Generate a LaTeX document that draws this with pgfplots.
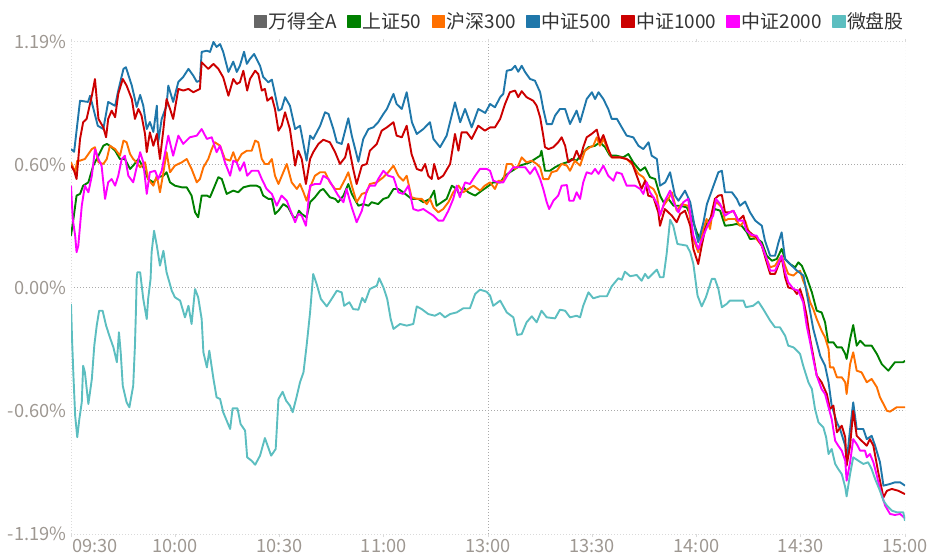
\documentclass[border=0pt]{standalone}
\usepackage{fontspec}
\setmainfont{Noto Sans CJK SC}
\usepackage{pgfplots}
\pgfplotsset{compat=1.18}
\definecolor{cgray}{RGB}{102,102,102}
\definecolor{cgreen}{RGB}{0,128,0}
\definecolor{corange}{RGB}{255,112,0}
\definecolor{cblue}{RGB}{31,119,170}
\definecolor{cred}{RGB}{204,0,0}
\definecolor{cmag}{RGB}{255,0,255}
\definecolor{cteal}{RGB}{92,190,192}
\definecolor{gridmid}{RGB}{170,170,170}
\definecolor{gridlight}{RGB}{218,218,218}
\definecolor{labelc}{RGB}{158,152,146}
\definecolor{legtext}{RGB}{51,51,51}
\begin{document}
\begin{tikzpicture}
\useasboundingbox (0,0) rectangle (934bp,559bp);
\begin{axis}[
  at={(71bp,25bp)}, anchor=south west,
  width=834bp, height=492bp, scale only axis,
  xmin=0, xmax=240, ymin=-1.19, ymax=1.19,
  axis line style={draw=none},
  no markers,
  every axis plot/.append style={line width=1.9bp, line join=round},
  ytick={-0.595,0,0.595},
  yticklabels={-0.60\%,0.00\%,0.60\%},
  extra y ticks={-1.19,1.19},
  extra y tick labels={-1.19\%,1.19\%},
  extra y tick style={major grid style={draw=gridlight, dash pattern=on 1bp off 2bp, line width=1bp}},
  ymajorgrids,
  major grid style={draw=gridmid, dash pattern=on 1bp off 2bp, line width=1bp},
  ytick style={draw=none},
  xtick={30,60,90,120,150,180,210,240},
  xticklabels={10:00,10:30,11:00,13:00,13:30,14:00,14:30,15:00},
  extra x ticks={0},
  extra x tick labels={09:30},
  extra x tick style={xticklabel style={anchor=north west, xshift=1bp}},
  xtick style={draw=gridlight, line width=1bp},
  major tick length=3bp,
  tick align=outside,
  tick label style={font=\fontsize{18.3}{20}\selectfont, text=labelc},
  yticklabel style={inner sep=0pt, xshift=-1.5bp},
  xticklabel style={inner sep=0pt, yshift=-2bp},
  legend style={draw=none, fill=none, at={(1,1)}, anchor=east, yshift=20.5bp, xshift=-1bp,
    inner sep=0pt, font=\fontsize{19}{21}\selectfont, text=legtext,
    nodes={inner sep=0pt},
    /tikz/every odd column/.append style={column sep=1.5bp},
    /tikz/every even column/.append style={column sep=10bp}},
  legend columns=-1,
  legend image code/.code={\fill[#1] (0bp,-6bp) rectangle (12bp,6bp);},
]
\draw[gridlight, dash pattern=on 1bp off 2bp, line width=1bp] (axis cs:0,-1.19) -- (axis cs:0,1.19);
\draw[gridlight, dash pattern=on 1bp off 2bp, line width=1bp] (axis cs:240,-1.19) -- (axis cs:240,1.19);
\draw[gridmid, dash pattern=on 1bp off 2bp, line width=1bp] (axis cs:120,-1.19) -- (axis cs:120,1.19);

\addlegendimage{cgray}
\addlegendentry{万得全A}

\addplot[cgreen] coordinates {(0,0.253)(0.7,0.334)(1.6,0.447)(2.6,0.455)(3.5,0.495)(5.0,0.511)(6.4,0.592)(7.9,0.640)(9.3,0.688)(10.3,0.697)(11.2,0.688)(12.7,0.664)(14.1,0.624)(15.5,0.624)(17.0,0.576)(17.9,0.592)(19.4,0.624)(20.8,0.584)(22.2,0.527)(23.7,0.511)(25.1,0.536)(26.6,0.543)(27.5,0.560)(28.5,0.511)(29.9,0.495)(31.9,0.487)(33.3,0.487)(34.7,0.447)(35.7,0.366)(36.6,0.342)(37.6,0.447)(39.1,0.447)(40.0,0.439)(41.0,0.479)(42.4,0.536)(43.4,0.527)(44.8,0.455)(46.7,0.471)(48.1,0.463)(49.6,0.487)(51.5,0.495)(53.4,0.495)(54.4,0.487)(55.3,0.447)(56.8,0.431)(57.8,0.431)(58.7,0.358)(59.7,0.374)(61.1,0.406)(62.5,0.390)(64.0,0.342)(64.9,0.342)(65.6,0.374)(66.4,0.358)(67.8,0.342)(68.8,0.415)(70.2,0.439)(71.7,0.471)(72.6,0.479)(74.5,0.439)(76.0,0.431)(76.9,0.415)(78.4,0.447)(79.8,0.503)(80.8,0.455)(82.7,0.398)(84.1,0.406)(85.6,0.398)(86.5,0.415)(88.4,0.406)(89.9,0.431)(91.3,0.439)(92.8,0.479)(94.2,0.479)(95.6,0.463)(98.0,0.431)(99.9,0.431)(101.4,0.415)(103.3,0.431)(104.5,0.471)(105.2,0.398)(106.7,0.415)(108.1,0.431)(109.6,0.495)(111.0,0.479)(111.9,0.447)(112.9,0.487)(114.3,0.463)(116.3,0.447)(118.2,0.471)(119.6,0.487)(121.5,0.511)(123.5,0.511)(124.9,0.543)(126.3,0.560)(127.8,0.576)(129.2,0.592)(130.7,0.600)(132.1,0.608)(133.5,0.624)(135.0,0.640)(135.4,0.664)(136.4,0.567)(137.8,0.567)(139.3,0.584)(141.2,0.600)(142.7,0.608)(144.1,0.624)(145.5,0.616)(147.4,0.657)(148.9,0.681)(150.8,0.688)(152.2,0.705)(153.7,0.681)(155.1,0.640)(157.0,0.640)(158.9,0.632)(160.4,0.648)(161.8,0.608)(163.8,0.567)(165.2,0.584)(166.6,0.536)(168.1,0.527)(169.5,0.447)(170.5,0.415)(171.9,0.431)(173.4,0.398)(175.3,0.398)(177.2,0.390)(178.6,0.342)(180.1,0.269)(181.0,0.237)(182.5,0.301)(183.9,0.334)(185.3,0.382)(186.8,0.374)(188.2,0.301)(190.2,0.305)(191.6,0.310)(193.0,0.301)(194.5,0.269)(195.4,0.237)(197.4,0.240)(198.8,0.221)(200.2,0.156)(201.7,0.132)(203.1,0.140)(204.5,0.189)(205.5,0.140)(206.9,0.116)(208.4,0.100)(209.3,0.124)(210.3,0.108)(211.7,0.052)(213.2,-0.021)(214.6,-0.110)(216.0,-0.118)(217.0,-0.166)(217.9,-0.263)(219.4,-0.263)(220.4,-0.287)(221.8,-0.287)(222.8,-0.319)(223.2,-0.343)(224.2,-0.247)(225.1,-0.179)(226.1,-0.279)(227.1,-0.255)(228.5,-0.279)(230.4,-0.279)(231.9,-0.319)(233.3,-0.368)(235.2,-0.400)(237.1,-0.359)(239.5,-0.359)(240,-0.352)};
\addlegendentry{上证50}

\addplot[corange] coordinates {(0,0.608)(1.2,0.560)(1.8,0.616)(2.6,0.616)(4.0,0.624)(5.0,0.648)(6.0,0.672)(6.9,0.681)(7.9,0.608)(9.3,0.600)(10.3,0.624)(11.2,0.688)(12.7,0.672)(14.1,0.640)(15.1,0.713)(16.0,0.705)(17.0,0.648)(17.9,0.624)(18.9,0.608)(19.9,0.584)(21.3,0.608)(22.2,0.527)(23.7,0.495)(24.7,0.543)(25.6,0.463)(26.6,0.560)(27.5,0.657)(28.5,0.560)(29.9,0.592)(31.9,0.608)(33.3,0.624)(34.7,0.576)(36.2,0.511)(37.1,0.527)(38.1,0.584)(39.5,0.624)(40.5,0.672)(41.4,0.705)(42.9,0.688)(44.3,0.624)(45.8,0.616)(46.7,0.657)(47.7,0.608)(49.1,0.648)(50.6,0.664)(52.0,0.664)(53.0,0.713)(53.9,0.705)(54.9,0.624)(55.8,0.600)(56.8,0.600)(57.8,0.624)(58.7,0.543)(59.7,0.503)(61.1,0.560)(62.1,0.600)(63.5,0.511)(65.0,0.479)(65.9,0.503)(66.9,0.463)(67.8,0.422)(69.0,0.495)(70.2,0.543)(71.7,0.560)(73.1,0.560)(74.5,0.511)(76.0,0.479)(77.4,0.479)(78.9,0.527)(79.8,0.560)(80.8,0.495)(82.2,0.415)(83.7,0.455)(85.1,0.463)(86.0,0.503)(88.0,0.511)(89.9,0.536)(91.3,0.560)(92.8,0.592)(94.2,0.543)(95.6,0.519)(96.6,0.543)(98.0,0.439)(99.5,0.431)(100.9,0.431)(102.4,0.406)(103.3,0.431)(104.3,0.390)(105.7,0.366)(107.1,0.382)(108.6,0.415)(110.0,0.463)(111.5,0.495)(112.9,0.463)(114.3,0.479)(115.8,0.495)(117.7,0.471)(119.1,0.495)(120.6,0.511)(122.0,0.479)(123.0,0.519)(124.4,0.519)(125.4,0.600)(126.8,0.600)(127.8,0.576)(128.7,0.592)(129.7,0.632)(131.1,0.608)(132.6,0.616)(134.0,0.600)(135.0,0.584)(135.9,0.527)(137.4,0.527)(138.3,0.560)(139.8,0.567)(141.2,0.600)(142.7,0.592)(143.6,0.567)(145.0,0.616)(146.5,0.592)(147.9,0.664)(149.4,0.681)(150.3,0.688)(151.3,0.729)(152.2,0.688)(153.2,0.721)(154.6,0.664)(155.6,0.632)(158.0,0.632)(159.9,0.624)(161.8,0.592)(163.3,0.552)(164.7,0.536)(166.1,0.495)(167.6,0.479)(168.6,0.447)(169.5,0.350)(170.5,0.398)(171.9,0.431)(172.9,0.463)(174.3,0.374)(175.7,0.406)(177.6,0.398)(179.1,0.237)(180.5,0.173)(182.0,0.285)(182.9,0.334)(183.9,0.285)(184.8,0.390)(185.8,0.415)(187.3,0.390)(188.2,0.326)(189.2,0.334)(191.1,0.334)(192.5,0.301)(194.0,0.326)(195.4,0.253)(196.9,0.245)(198.8,0.205)(200.2,0.140)(201.2,0.100)(202.6,0.108)(203.5,0.132)(204.5,0.156)(205.5,0.108)(206.4,0.068)(207.9,0.060)(208.9,0.076)(209.8,0.084)(210.7,0.035)(211.7,-0.005)(212.7,-0.069)(213.6,-0.102)(214.6,-0.150)(216.0,-0.207)(217.0,-0.239)(218.0,-0.295)(218.4,-0.384)(219.4,-0.384)(220.4,-0.432)(221.8,-0.432)(222.8,-0.456)(223.2,-0.513)(224.2,-0.368)(225.1,-0.311)(226.1,-0.400)(227.5,-0.408)(229.0,-0.456)(230.4,-0.440)(231.9,-0.480)(232.8,-0.529)(233.8,-0.561)(234.8,-0.594)(235.7,-0.598)(237.6,-0.577)(240,-0.577)};
\addlegendentry{沪深300}

\addplot[cblue] coordinates {(0,0.672)(0.9,0.659)(2.6,0.906)(4.9,0.900)(5.5,0.930)(7.7,0.785)(9.3,0.769)(10.7,0.900)(12.7,0.881)(13.6,0.955)(15.1,1.060)(15.8,1.068)(17.5,0.979)(18.9,0.876)(19.9,0.934)(20.8,0.882)(21.8,0.769)(22.7,0.803)(23.7,0.755)(24.7,0.882)(25.1,0.706)(26.1,0.818)(27.5,0.882)(28.0,0.979)(29.4,0.900)(30.9,0.997)(32.3,1.021)(33.8,1.060)(35.2,1.027)(36.2,0.997)(37.1,1.003)(37.6,1.142)(39.1,1.148)(40.0,1.142)(41.0,1.190)(41.9,1.166)(42.9,1.180)(43.8,1.142)(45.3,1.045)(46.7,1.095)(47.7,1.045)(48.6,1.075)(49.8,1.143)(50.6,1.084)(51.5,1.108)(52.7,1.132)(54.4,1.075)(55.3,1.021)(56.8,0.995)(57.8,1.008)(58.7,0.939)(59.7,0.858)(60.6,0.866)(61.6,0.923)(63.0,0.882)(64.5,0.769)(65.9,0.785)(67.8,0.616)(68.8,0.737)(69.7,0.721)(71.7,0.785)(73.1,0.850)(74.1,0.842)(75.5,0.769)(76.5,0.705)(77.9,0.697)(79.8,0.821)(80.8,0.737)(82.7,0.611)(84.1,0.721)(85.6,0.769)(87.0,0.777)(88.4,0.802)(89.9,0.842)(90.9,0.866)(92.8,0.939)(93.7,0.890)(95.2,0.866)(96.6,0.947)(98.1,0.802)(99.5,0.745)(101.4,0.769)(103.3,0.802)(104.3,0.721)(106.2,0.681)(108.1,0.737)(110.5,0.898)(112.0,0.802)(113.4,0.866)(115.3,0.777)(117.2,0.866)(119.2,0.847)(120.6,0.890)(122.0,0.874)(123.5,0.923)(124.4,0.939)(125.4,1.051)(126.8,1.056)(127.8,1.075)(128.7,1.046)(129.7,1.075)(130.7,1.044)(132.1,1.011)(133.5,1.003)(135.0,0.947)(135.9,0.866)(136.9,0.793)(138.4,0.793)(139.3,0.834)(140.7,0.866)(142.2,0.866)(143.6,0.793)(145.5,0.858)(146.5,0.802)(148.4,0.914)(149.9,0.947)(150.8,0.914)(151.8,0.947)(153.2,0.914)(154.6,0.866)(155.6,0.818)(157.1,0.818)(158.5,0.777)(159.9,0.737)(161.8,0.729)(163.3,0.688)(164.7,0.672)(166.2,0.705)(167.1,0.640)(168.6,0.624)(169.5,0.495)(171.0,0.511)(172.4,0.560)(173.8,0.447)(174.8,0.422)(176.7,0.471)(178.2,0.415)(179.6,0.285)(180.5,0.221)(182.0,0.318)(183.0,0.406)(184.9,0.495)(186.3,0.560)(187.3,0.567)(188.2,0.463)(190.2,0.463)(191.6,0.431)(192.5,0.398)(194.0,0.418)(195.4,0.366)(196.9,0.326)(198.8,0.301)(199.7,0.229)(201.2,0.156)(202.6,0.156)(203.6,0.221)(204.5,0.269)(205.5,0.140)(206.9,0.116)(208.9,0.084)(210.8,0.060)(212.2,-0.069)(213.6,-0.198)(215.6,-0.328)(217.0,-0.376)(218.0,-0.456)(218.9,-0.569)(220.4,-0.650)(221.3,-0.682)(222.8,-0.763)(223.2,-0.843)(224.2,-0.682)(225.1,-0.553)(226.1,-0.682)(228.0,-0.682)(229.0,-0.731)(230.4,-0.715)(231.4,-0.763)(232.8,-0.843)(233.8,-0.956)(235.7,-0.948)(237.1,-0.940)(238.6,-0.940)(240,-0.956)};
\addlegendentry{中证500}

\addplot[cred] coordinates {(0,0.592)(0.9,0.567)(1.6,0.527)(2.1,0.624)(2.6,0.721)(3.5,0.802)(4.5,0.818)(6.0,0.930)(6.9,1.011)(7.9,0.818)(9.3,0.777)(10.1,0.729)(10.7,0.818)(11.7,0.858)(12.7,0.826)(13.6,0.939)(14.9,1.011)(16.0,0.979)(17.5,0.914)(18.4,0.818)(19.4,0.866)(20.3,0.834)(21.3,0.745)(21.8,0.657)(22.7,0.753)(23.7,0.688)(24.7,0.745)(25.6,0.624)(26.6,0.769)(27.5,0.914)(28.5,0.866)(29.4,0.818)(30.9,0.963)(32.3,0.955)(33.8,0.963)(35.2,0.947)(37.1,0.963)(37.6,1.092)(38.6,1.075)(39.5,1.060)(41.0,1.084)(42.4,1.060)(43.8,1.019)(45.3,0.930)(46.7,1.011)(47.7,0.987)(48.6,0.995)(49.6,1.051)(50.7,0.955)(51.5,1.011)(53.0,1.051)(53.9,1.035)(54.9,0.955)(55.8,0.963)(56.5,0.906)(57.8,0.923)(58.7,0.866)(59.7,0.761)(60.6,0.785)(61.6,0.850)(63.0,0.769)(64.5,0.592)(65.4,0.664)(66.4,0.624)(67.6,0.503)(68.8,0.624)(69.7,0.657)(71.2,0.697)(72.6,0.717)(74.5,0.705)(76.0,0.657)(77.4,0.600)(78.9,0.632)(79.8,0.697)(81.2,0.576)(82.2,0.503)(83.7,0.592)(85.1,0.600)(86.0,0.664)(88.0,0.697)(89.4,0.761)(90.9,0.777)(92.8,0.802)(93.7,0.737)(95.2,0.729)(96.6,0.785)(98.0,0.648)(99.5,0.576)(100.9,0.567)(101.9,0.600)(102.8,0.543)(103.8,0.527)(104.5,0.600)(105.7,0.527)(107.1,0.543)(109.1,0.600)(110.5,0.745)(111.5,0.664)(112.4,0.753)(113.9,0.753)(115.3,0.721)(117.2,0.785)(119.1,0.761)(120.6,0.777)(122.0,0.777)(123.5,0.818)(124.9,0.890)(126.3,0.947)(127.8,0.955)(128.7,0.923)(129.7,0.952)(131.1,0.923)(133.0,0.906)(134.0,0.882)(135.0,0.826)(135.9,0.737)(136.4,0.681)(137.4,0.672)(138.8,0.681)(140.2,0.705)(141.2,0.729)(142.2,0.688)(143.1,0.608)(144.6,0.624)(145.5,0.664)(146.5,0.624)(147.4,0.681)(148.4,0.729)(149.8,0.745)(151.3,0.766)(152.2,0.705)(153.2,0.740)(154.6,0.672)(155.6,0.632)(158.0,0.632)(159.9,0.624)(161.4,0.608)(162.8,0.543)(164.2,0.479)(165.2,0.519)(166.1,0.447)(167.6,0.439)(169.0,0.366)(169.5,0.301)(170.9,0.382)(172.9,0.350)(174.3,0.318)(175.3,0.358)(176.7,0.374)(178.2,0.301)(179.1,0.189)(180.5,0.116)(181.5,0.205)(182.5,0.285)(183.9,0.326)(185.3,0.431)(186.3,0.447)(187.3,0.450)(188.2,0.366)(189.6,0.366)(190.6,0.374)(192.0,0.326)(193.5,0.350)(194.4,0.285)(195.9,0.261)(197.3,0.245)(198.8,0.205)(200.2,0.124)(201.2,0.068)(202.6,0.068)(203.5,0.108)(204.5,0.149)(205.5,0.052)(206.4,0.003)(207.9,-0.005)(208.9,-0.029)(209.8,-0.005)(210.7,-0.053)(211.7,-0.134)(212.7,-0.247)(213.6,-0.328)(214.6,-0.424)(216.0,-0.456)(217.5,-0.513)(218.4,-0.585)(219.4,-0.569)(220.4,-0.698)(221.8,-0.666)(222.8,-0.722)(223.2,-0.860)(224.2,-0.763)(225.1,-0.594)(226.1,-0.715)(227.5,-0.739)(229.0,-0.763)(229.9,-0.731)(230.9,-0.763)(232.3,-0.892)(233.8,-1.013)(234.8,-0.981)(236.2,-0.972)(238.1,-0.981)(240,-0.997)};
\addlegendentry{中证1000}

\addplot[cmag] coordinates {(0,0.495)(0.5,0.334)(1.2,0.253)(1.6,0.173)(2.1,0.205)(3.1,0.398)(4.0,0.495)(5.0,0.463)(6.0,0.543)(6.9,0.672)(7.9,0.624)(8.8,0.592)(9.8,0.431)(10.7,0.511)(11.7,0.527)(12.7,0.495)(13.6,0.543)(14.6,0.624)(15.5,0.640)(16.5,0.543)(17.9,0.511)(19.9,0.657)(20.8,0.608)(21.8,0.455)(22.7,0.560)(24.2,0.567)(25.1,0.527)(26.1,0.567)(27.1,0.657)(28.0,0.737)(29.4,0.640)(30.9,0.737)(32.3,0.697)(34.2,0.729)(36.2,0.737)(37.6,0.769)(39.1,0.721)(40.5,0.729)(41.9,0.657)(42.9,0.688)(44.3,0.608)(45.8,0.543)(46.7,0.616)(47.7,0.608)(48.6,0.567)(49.8,0.608)(50.7,0.543)(52.0,0.567)(53.9,0.567)(54.9,0.527)(56.3,0.479)(57.8,0.455)(59.2,0.398)(60.6,0.447)(62.1,0.422)(63.0,0.382)(64.5,0.318)(65.4,0.358)(66.4,0.350)(67.6,0.301)(68.8,0.495)(70.2,0.503)(71.7,0.503)(72.6,0.543)(74.1,0.527)(75.5,0.487)(76.9,0.447)(78.4,0.415)(79.3,0.479)(80.8,0.390)(82.2,0.318)(83.7,0.374)(85.1,0.471)(86.0,0.495)(87.5,0.495)(88.4,0.527)(89.9,0.567)(91.3,0.543)(92.8,0.536)(94.2,0.463)(95.6,0.455)(97.1,0.495)(98.5,0.382)(99.9,0.374)(101.4,0.382)(102.8,0.366)(104.3,0.350)(105.7,0.326)(107.1,0.326)(108.6,0.374)(110.0,0.431)(111.0,0.495)(111.9,0.439)(113.4,0.511)(114.8,0.503)(116.3,0.543)(117.7,0.576)(119.6,0.576)(120.6,0.567)(121.5,0.519)(123.0,0.511)(124.4,0.511)(125.8,0.552)(127.3,0.584)(129.2,0.584)(130.7,0.584)(132.1,0.552)(133.5,0.584)(135.0,0.527)(135.9,0.479)(136.9,0.415)(137.6,0.382)(138.8,0.422)(140.2,0.447)(141.2,0.495)(142.7,0.498)(143.4,0.422)(144.6,0.422)(145.5,0.463)(146.5,0.431)(147.4,0.511)(148.4,0.560)(149.8,0.552)(150.8,0.576)(151.8,0.552)(153.2,0.592)(154.6,0.543)(156.1,0.519)(157.0,0.560)(158.5,0.552)(159.9,0.495)(162.3,0.495)(163.8,0.479)(164.7,0.455)(165.7,0.511)(166.6,0.463)(167.6,0.439)(169.0,0.398)(169.5,0.350)(170.9,0.422)(172.4,0.471)(173.4,0.415)(174.8,0.366)(176.2,0.415)(177.6,0.431)(179.1,0.253)(180.5,0.189)(182.0,0.253)(183.4,0.310)(184.8,0.350)(185.6,0.431)(186.8,0.406)(188.2,0.350)(189.6,0.366)(190.6,0.374)(192.0,0.326)(193.5,0.326)(194.4,0.277)(195.9,0.256)(197.3,0.253)(198.8,0.205)(200.2,0.140)(201.2,0.084)(202.6,0.084)(203.5,0.116)(204.5,0.156)(205.5,0.076)(206.4,0.028)(207.9,-0.005)(209.3,-0.013)(210.7,-0.069)(211.7,-0.182)(212.7,-0.263)(213.6,-0.343)(214.6,-0.424)(216.0,-0.489)(217.0,-0.513)(218.0,-0.577)(218.9,-0.634)(219.9,-0.739)(220.8,-0.763)(221.8,-0.787)(222.8,-0.836)(223.2,-0.932)(224.2,-0.843)(225.1,-0.731)(226.1,-0.755)(227.1,-0.787)(228.5,-0.787)(229.0,-0.819)(229.9,-0.803)(230.9,-0.843)(231.9,-0.908)(232.8,-0.972)(234.3,-1.053)(235.7,-1.093)(237.1,-1.098)(238.6,-1.093)(240,-1.114)};
\addlegendentry{中证2000}

\addplot[cteal] coordinates {(0,-0.077)(0.3,-0.247)(0.7,-0.424)(1.2,-0.618)(1.8,-0.722)(2.4,-0.634)(3.1,-0.553)(3.5,-0.376)(4.0,-0.408)(5.0,-0.561)(6.0,-0.440)(6.7,-0.279)(7.4,-0.182)(8.1,-0.110)(9.1,-0.110)(10.1,-0.182)(11.2,-0.239)(12.2,-0.287)(13.2,-0.359)(13.8,-0.214)(14.3,-0.311)(14.9,-0.473)(16.0,-0.553)(16.8,-0.577)(17.9,-0.473)(18.4,-0.279)(18.7,-0.102)(18.9,0.044)(19.1,0.076)(19.9,0.076)(20.8,-0.053)(21.8,-0.150)(22.2,-0.053)(22.9,0.044)(23.2,0.173)(23.9,0.277)(24.7,0.205)(25.6,0.108)(26.6,0.180)(27.5,0.076)(29.0,-0.013)(29.9,-0.045)(31.4,-0.061)(32.8,-0.142)(33.8,-0.086)(34.7,-0.174)(35.7,-0.005)(36.6,-0.045)(37.6,-0.150)(38.1,-0.311)(39.1,-0.384)(39.8,-0.303)(41.0,-0.440)(41.9,-0.529)(42.9,-0.537)(43.8,-0.601)(45.8,-0.682)(46.5,-0.582)(47.9,-0.582)(48.8,-0.658)(50.1,-0.690)(50.7,-0.819)(52.0,-0.836)(53.0,-0.855)(54.4,-0.811)(55.8,-0.726)(57.6,-0.811)(58.9,-0.779)(59.7,-0.537)(60.9,-0.502)(61.9,-0.545)(63.0,-0.569)(63.8,-0.601)(65.0,-0.521)(65.9,-0.456)(66.9,-0.408)(67.8,-0.279)(68.8,-0.118)(69.7,0.068)(70.7,0.019)(71.9,-0.053)(73.6,-0.089)(75.0,-0.053)(76.5,-0.013)(77.9,-0.021)(78.6,-0.086)(80.1,-0.069)(81.2,-0.102)(82.7,-0.105)(83.8,-0.048)(84.6,-0.069)(86.0,-0.005)(88.0,0.011)(88.7,0.047)(89.9,0.003)(91.0,-0.053)(92.0,-0.150)(92.8,-0.198)(94.7,-0.174)(96.6,-0.182)(98.5,-0.174)(99.5,-0.089)(100.9,-0.102)(102.8,-0.126)(104.7,-0.134)(106.2,-0.121)(107.6,-0.142)(109.1,-0.126)(111.0,-0.118)(112.9,-0.098)(114.8,-0.098)(116.3,-0.029)(117.7,-0.008)(119.6,-0.018)(120.6,-0.037)(121.5,-0.086)(123.5,-0.061)(125.4,-0.118)(127.3,-0.142)(128.4,-0.227)(129.7,-0.223)(131.1,-0.166)(132.6,-0.137)(134.0,-0.166)(135.4,-0.110)(136.9,-0.142)(139.3,-0.147)(140.7,-0.105)(142.2,-0.110)(143.6,-0.142)(145.5,-0.134)(146.5,-0.142)(147.4,-0.086)(148.9,-0.021)(150.3,-0.050)(152.2,-0.040)(154.2,-0.040)(155.6,0.008)(157.5,0.047)(158.5,0.040)(159.4,0.079)(160.9,0.057)(162.8,0.063)(164.2,0.035)(165.2,0.068)(166.1,0.047)(168.6,0.089)(169.5,0.052)(170.5,0.052)(171.4,0.164)(172.4,0.330)(173.3,0.301)(174.5,0.213)(177.2,0.205)(178.2,0.173)(179.1,0.116)(180.3,-0.037)(181.5,-0.089)(182.7,-0.045)(184.4,0.044)(185.3,0.044)(186.3,-0.005)(187.3,-0.093)(188.7,-0.077)(189.6,-0.061)(193.5,-0.061)(194.2,-0.093)(196.3,-0.086)(197.8,-0.066)(199.2,-0.102)(201.2,-0.158)(202.6,-0.190)(204.0,-0.190)(205.5,-0.231)(206.4,-0.279)(207.9,-0.287)(208.9,-0.303)(209.8,-0.319)(210.7,-0.376)(212.2,-0.456)(213.2,-0.489)(214.1,-0.585)(215.1,-0.650)(216.5,-0.674)(217.3,-0.722)(218.0,-0.803)(218.9,-0.779)(219.9,-0.851)(220.8,-0.876)(221.8,-0.900)(222.8,-0.964)(223.2,-1.008)(224.2,-0.900)(225.1,-0.819)(226.6,-0.836)(228.0,-0.851)(229.4,-0.843)(230.4,-0.876)(231.4,-0.924)(232.8,-0.981)(233.8,-1.029)(234.8,-1.053)(236.2,-1.077)(237.6,-1.085)(239.5,-1.085)(240,-1.126)};
\addlegendentry{微盘股}
\end{axis}
\end{tikzpicture}
\end{document}
